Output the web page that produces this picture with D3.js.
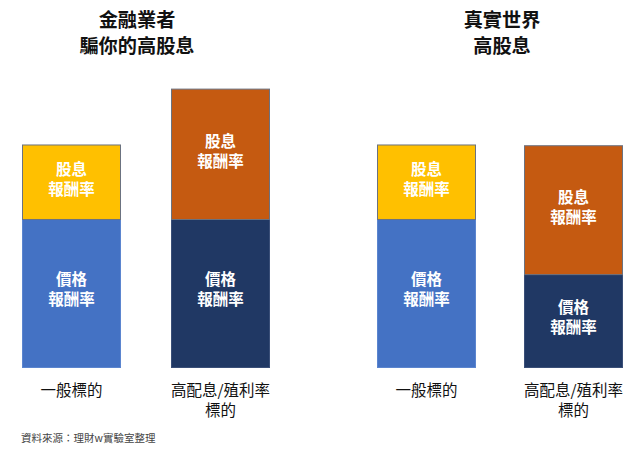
<!DOCTYPE html>
<html><head><meta charset="utf-8">
<script src="https://cdn.jsdelivr.net/npm/d3@7"></script>
<style>
body{margin:0;background:#fff;}
svg{display:block;font-family:"Noto Sans CJK TC","Noto Sans CJK SC",sans-serif;}
</style></head><body>
<svg id="c" width="640" height="451"></svg>
<script>
const panelTitles = [["金融業者","騙你的高股息"],["真實世界","高股息"]];
const categories = [["一般標的"],["高配息/殖利率","標的"]];
const priceReturn = [[2.0, 2.0],[2.0, 1.26]];
const dividendReturn = [[1.0, 1.75],[1.0, 1.73]];
const segLabels = {price:["價格","報酬率"], dividend:["股息","報酬率"]};
const colors = {
  price:[["#4472C4","#203864"],["#4472C4","#203864"]],
  dividend:[["#FFC000","#C55A11"],["#FFC000","#C55A11"]]
};
const source = "資料來源：理財w實驗室整理";

const svg = d3.select("#c");
const y = d3.scaleLinear().domain([0, 3.75]).range([368, 88.6]);
const panels = [{bx:[22,171], cx:137}, {bx:[377,524], cx:502}];
const barW = 99;

function multiline(g, lines, x, y0, dy, size, weight, fill) {
  const t = g.append("text").attr("x", x).attr("y", y0)
    .attr("text-anchor","middle").attr("font-size", size)
    .attr("font-weight", weight).attr("fill", fill);
  t.selectAll("tspan").data(lines).join("tspan")
    .attr("x", x).attr("y", (d,i)=> y0 + i*dy).text(d=>d);
}

panels.forEach((p, pi) => {
  const g = svg.append("g");
  multiline(g, panelTitles[pi], p.cx, 27, 26, 19.2, "bold", "#111");

  const xs = d3.scaleOrdinal().domain([0,1]).range(p.bx);
  [0,1].forEach(bi => {
    const x = xs(bi);
    const pr = priceReturn[pi][bi], dv = dividendReturn[pi][bi];
    const dark = colors.price[pi][bi] === "#203864";
    g.append("rect").attr("x", x).attr("y", y(pr)).attr("width", barW)
      .attr("height", y(0)-y(pr)).attr("fill", colors.price[pi][bi]);
    g.append("rect").attr("x", x+0.5).attr("y", y(pr)).attr("width", barW-1)
      .attr("height", y(0)-y(pr)-0.5).attr("fill","none")
      .attr("stroke", dark ? "#3a4f78" : "#5b85cf").attr("stroke-width",1);
    g.append("rect").attr("x", x+0.5).attr("y", y(pr+dv)+0.5).attr("width", barW-1)
      .attr("height", y(pr)-y(pr+dv)).attr("fill", colors.dividend[pi][bi])
      .attr("stroke","#6b7280").attr("stroke-width",1);
    const segs = [
      {lab:segLabels.price, c:(y(0)+y(pr))/2 - 4},
      {lab:segLabels.dividend, c:(y(pr)+y(pr+dv))/2 - 2}
    ];
    segs.forEach(s => {
      multiline(g, s.lab, x + barW/2, s.c - 4.5, 20, 15.5, "bold", "#fff");
    });
    multiline(g, categories[bi], x + barW/2, 395.5, 20, 15.5, "normal", "#111");
  });
});

svg.append("text").attr("x",21).attr("y",442).attr("font-size",10.5)
  .attr("fill","#444").text(source);
</script>
</body></html>
